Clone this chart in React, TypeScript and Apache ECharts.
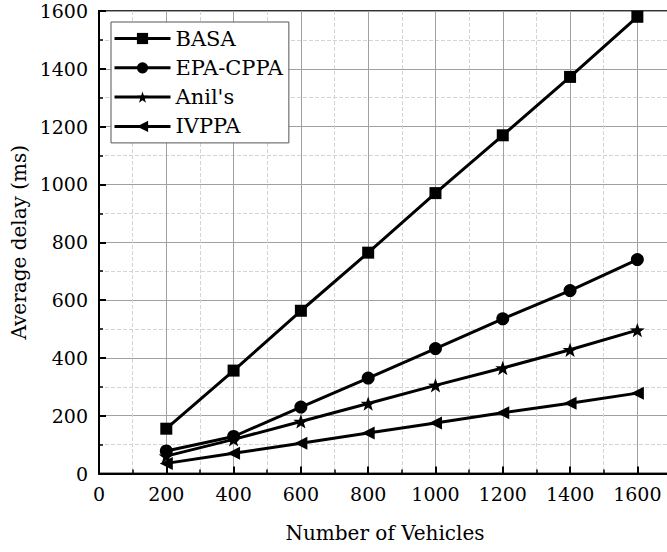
import React, { useEffect, useRef } from "react";
import * as echarts from "echarts";

const vehicles = [200, 400, 600, 800, 1000, 1200, 1400, 1600];
const basa = [155, 356, 563, 764, 970, 1170, 1372, 1580];
const epaCppa = [78, 128, 230, 330, 432, 535, 633, 740];
const anils = [60, 118, 180, 242, 305, 365, 428, 496];
const ivppa = [35, 70, 105, 140, 175, 210, 243, 278];

const seriesNames = ["BASA", "EPA-CPPA", "Anil's", "IVPPA"];
const xTitle = "Number of Vehicles";
const yTitle = "Average delay (ms)";

const STAR =
  "path://M0,-10 L2.35,-3.24 L9.51,-3.09 L3.8,1.24 L5.88,8.09 L0,4 L-5.88,8.09 L-3.8,1.24 L-9.51,-3.09 L-2.35,-3.24 Z";

const FONT = "DejaVu Serif";

export default function App() {
  const ref = useRef<HTMLDivElement>(null);
  useEffect(() => {
    if (!ref.current) return;
    const chart = echarts.init(ref.current, undefined, { renderer: "svg" });
    const mk = (name: string, vals: number[], symbol: string, size: number, rotate = 0) => ({
      name,
      type: "line",
      data: vehicles.map((v, i) => [v, vals[i]]),
      symbol,
      symbolSize: size,
      symbolRotate: rotate,
      symbolKeepAspect: true,
      lineStyle: { color: "#000", width: 3 },
      itemStyle: { color: "#000" },
      z: 5,
    });
    const fmt = (v: number) => String(v);
    chart.setOption({
      animation: false,
      backgroundColor: "#fff",
      textStyle: { fontFamily: FONT },
      grid: {
        left: 99,
        top: 11,
        right: 0,
        bottom: 78.5,
        show: true,
        borderColor: "#333",
        borderWidth: 2,
        backgroundColor: "transparent",
      },
      legend: {
        orient: "vertical",
        left: 111,
        top: 22,
        padding: [5, 6, 5, 2],
        itemGap: 6.3,
        itemWidth: 56,
        itemHeight: 14,
        borderColor: "#555",
        borderWidth: 1,
        backgroundColor: "#fff",
        lineStyle: { width: 3, color: "#000" },
        textStyle: { fontFamily: FONT, fontSize: 21, color: "#000", lineHeight: 23 },
        data: seriesNames,
      },
      xAxis: {
        type: "value",
        min: 0,
        max: 1700,
        interval: 200,
        name: xTitle,
        nameLocation: "middle",
        nameGap: 49,
        nameTextStyle: { fontFamily: FONT, fontSize: 20, color: "#000" },
        axisLine: { show: true, lineStyle: { color: "#000", width: 2 } },
        axisTick: { show: true, inside: true, length: 7, lineStyle: { color: "#000", width: 2 } },
        minorTick: { show: true, splitNumber: 2, length: 4, lineStyle: { color: "#000", width: 1.5 } },
        axisLabel: {
          fontFamily: FONT,
          fontSize: 19,
          color: "#000",
          margin: 11,
          showMaxLabel: false,
          formatter: fmt,
        },
        splitLine: { show: true, lineStyle: { color: "#a0a0a0", width: 1 } },
        minorSplitLine: { show: true, lineStyle: { color: "#d4d4d4", width: 1, type: "dashed" } },
      },
      yAxis: {
        type: "value",
        min: 0,
        max: 1600,
        interval: 200,
        name: yTitle,
        nameLocation: "middle",
        nameGap: 63,
        nameTextStyle: { fontFamily: FONT, fontSize: 20, color: "#000" },
        axisLine: { show: true, lineStyle: { color: "#000", width: 2 } },
        axisTick: { show: true, inside: true, length: 7, lineStyle: { color: "#000", width: 2 } },
        minorTick: { show: true, splitNumber: 2, length: 4, lineStyle: { color: "#000", width: 1.5 } },
        axisLabel: { fontFamily: FONT, fontSize: 19, color: "#000", margin: 11, formatter: fmt },
        splitLine: { show: true, lineStyle: { color: "#a0a0a0", width: 1 } },
        minorSplitLine: { show: true, lineStyle: { color: "#d4d4d4", width: 1, type: "dashed" } },
      },
      series: [
        mk(seriesNames[0], basa, "rect", 12),
        mk(seriesNames[1], epaCppa, "circle", 13),
        mk(seriesNames[2], anils, STAR, 15),
        mk(seriesNames[3], ivppa, "triangle", 13, 90),
      ],
    });
    return () => chart.dispose();
  }, []);
  return (
    <div style={{ position: "fixed", left: 0, top: 0, width: 667, height: 552, overflow: "hidden", background: "#fff" }}>
      <div ref={ref} style={{ width: 671, height: 552 }} />
    </div>
  );
}
